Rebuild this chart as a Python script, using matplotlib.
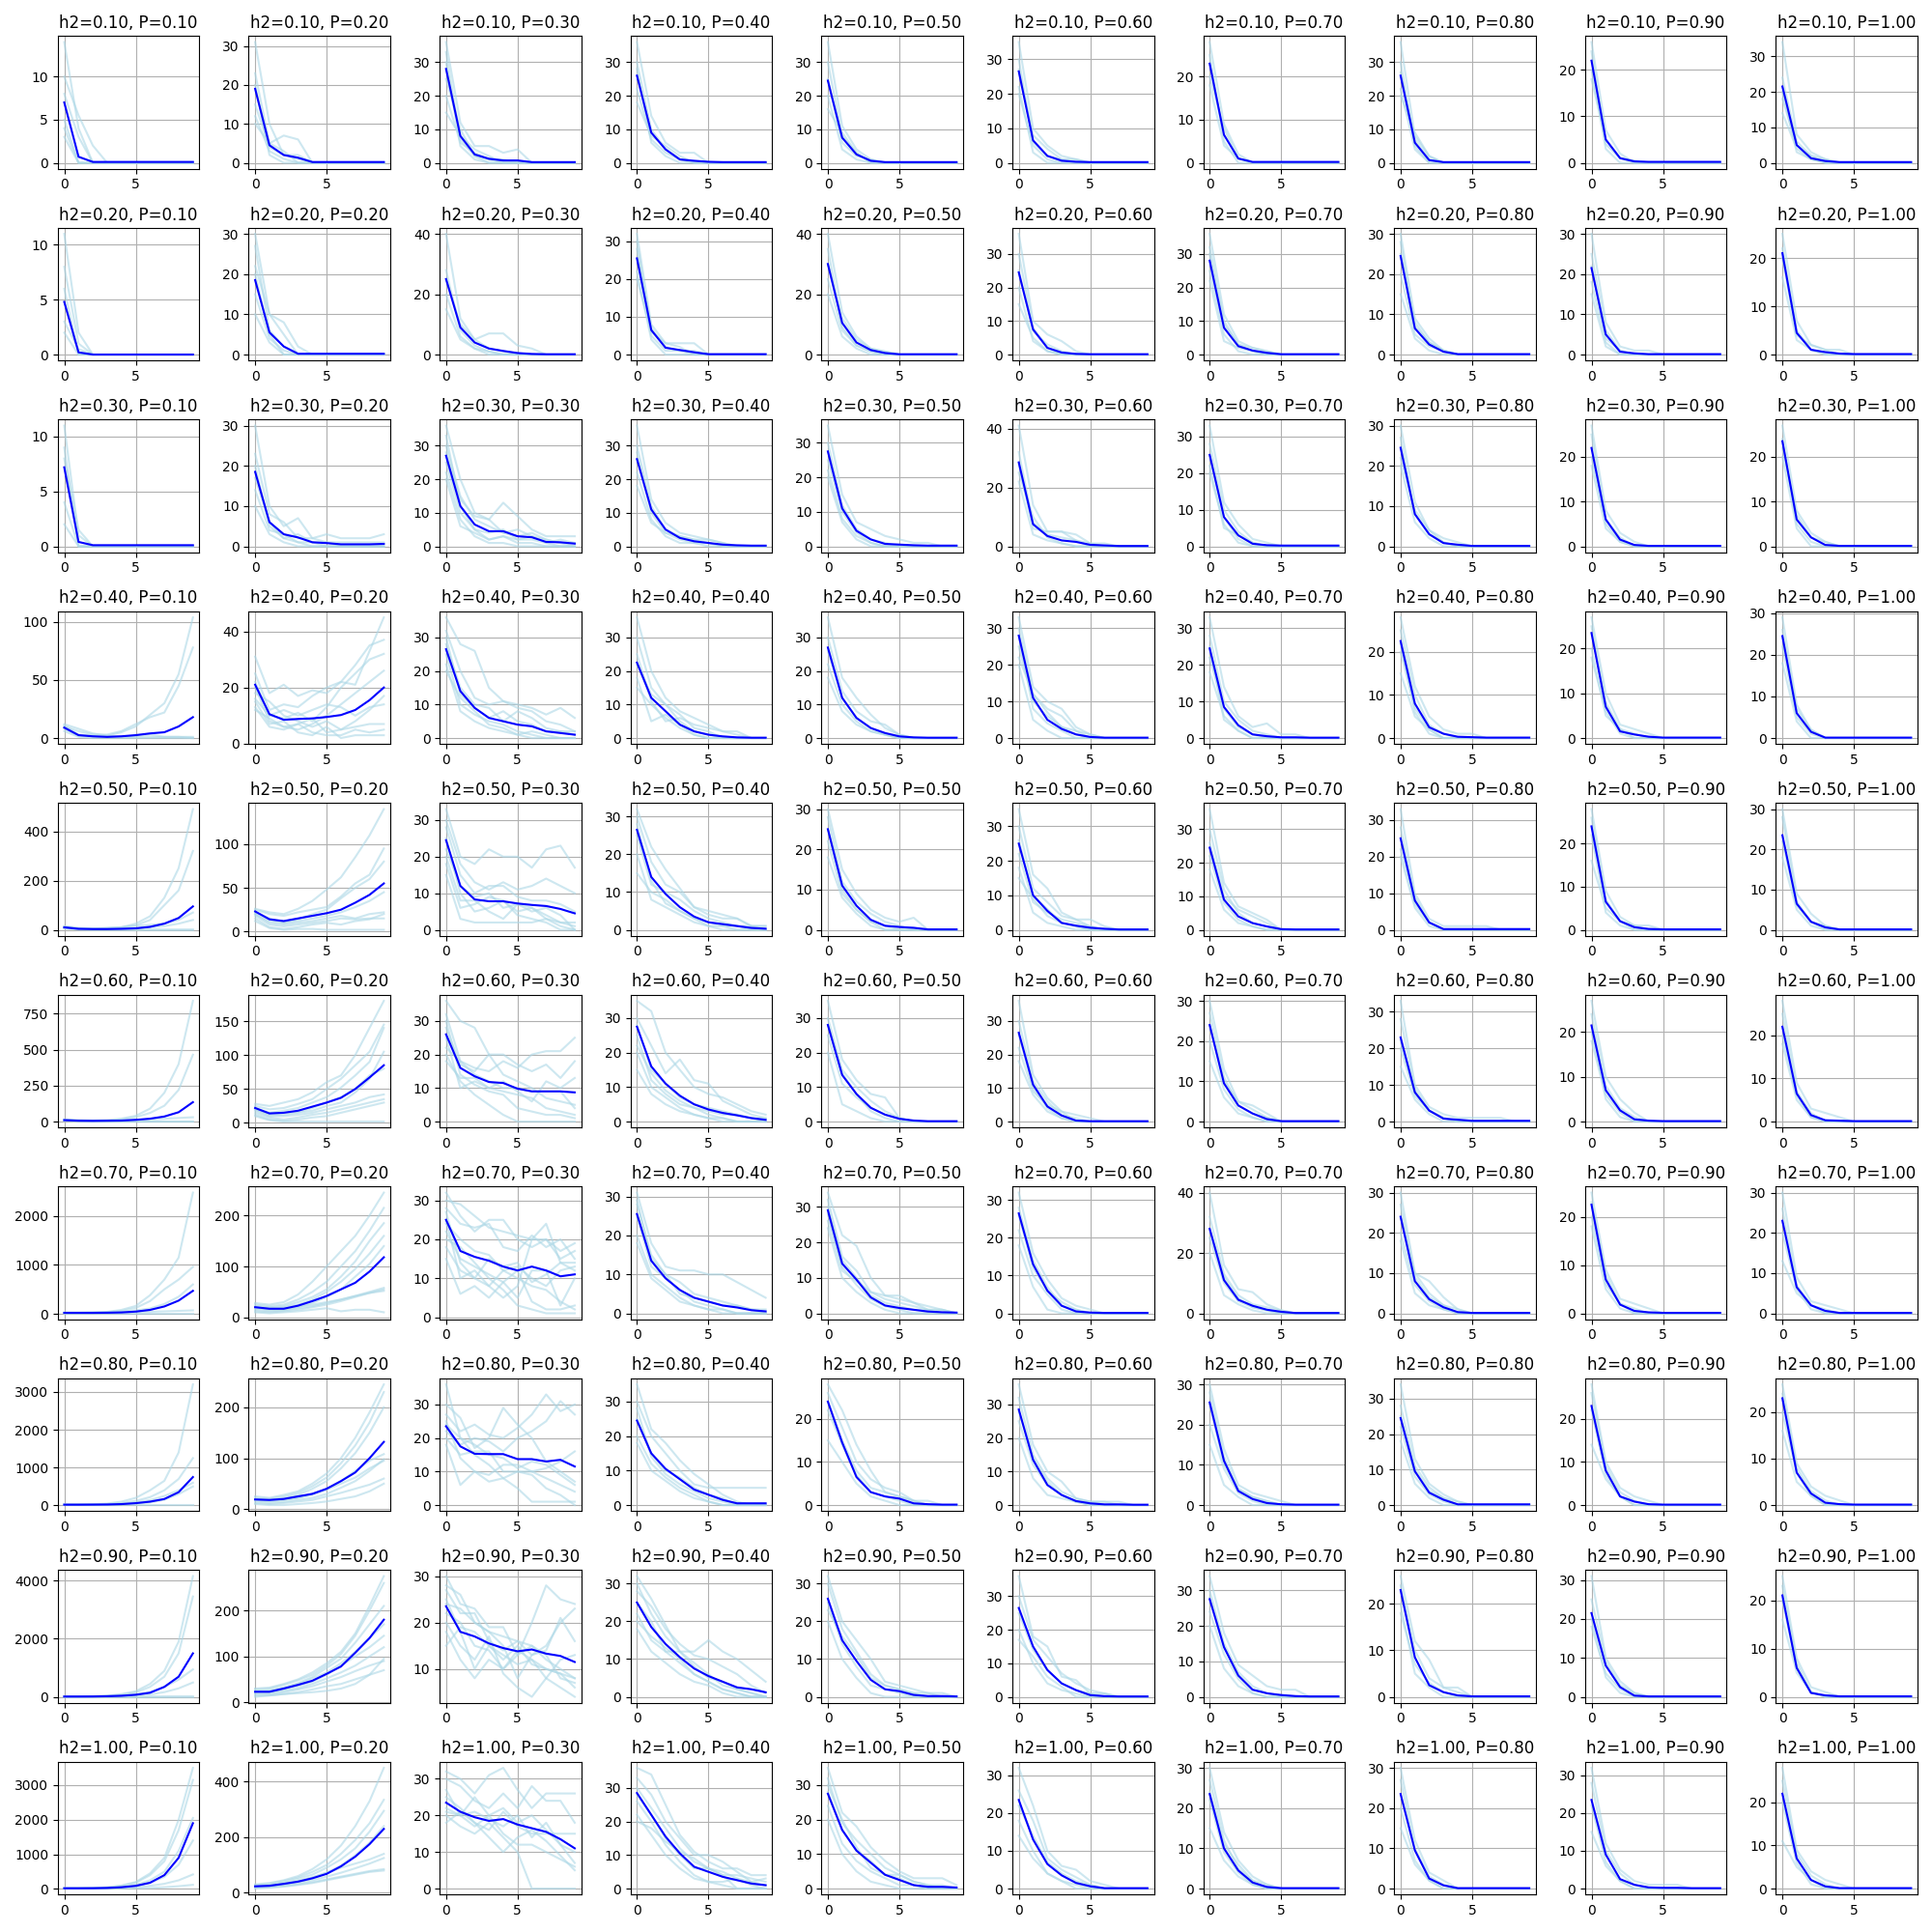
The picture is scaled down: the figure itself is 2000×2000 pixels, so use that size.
import matplotlib
matplotlib.use("Agg")
import matplotlib.pyplot as plt

H2_VALUES = [0.1, 0.2, 0.3, 0.4, 0.5, 0.6, 0.7, 0.8, 0.9, 1.0]
P_VALUES = [0.1, 0.2, 0.3, 0.4, 0.5, 0.6, 0.7, 0.8, 0.9, 1.0]
GENERATIONS = [0, 1, 2, 3, 4, 5, 6, 7, 8, 9]

# ---------------- h2 = 0.10 ----------------
MEAN_H2_010 = [
    [7, 0.7, 0.1, 0.1, 0.1, 0.1, 0.1, 0.1, 0.1, 0.1],
    [19, 4.5, 2, 1.3, 0.2, 0.2, 0.2, 0.2, 0.2, 0.2],
    [28, 8, 2.5, 1.2, 0.7, 0.7, 0.2, 0.2, 0.2, 0.2],
    [26, 9, 4, 1, 0.6, 0.3, 0.2, 0.2, 0.2, 0.2],
    [24.5, 7.5, 2.5, 0.6, 0.2, 0.2, 0.2, 0.2, 0.2, 0.2],
    [26.5, 6.5, 2, 0.6, 0.3, 0.2, 0.2, 0.2, 0.2, 0.2],
    [23, 6.5, 1, 0.2, 0.2, 0.2, 0.2, 0.2, 0.2, 0.2],
    [26, 6, 0.8, 0.2, 0.2, 0.2, 0.2, 0.2, 0.2, 0.2],
    [22, 5, 1, 0.3, 0.2, 0.2, 0.2, 0.2, 0.2, 0.2],
    [21.5, 5, 1.3, 0.5, 0.2, 0.2, 0.2, 0.2, 0.2, 0.2],
]
RUNS_H2_010 = [
    [[14, 4, 0, 0, 0, 0, 0, 0, 0, 0], [10, 5.5, 2, 0, 0, 0, 0, 0, 0, 0], [8, 3, 0, 0, 0, 0, 0, 0, 0, 0],
     [5, 0, 0, 0, 0, 0, 0, 0, 0, 0], [4, 0, 0, 0, 0, 0, 0, 0, 0, 0], [3, 0, 0, 0, 0, 0, 0, 0, 0, 0]],
    [[31, 10, 2, 1, 0, 0, 0, 0, 0, 0], [23, 5, 7, 6, 0, 0, 0, 0, 0, 0], [15, 4, 2, 2, 0, 0, 0, 0, 0, 0],
     [12, 3, 1, 0, 0, 0, 0, 0, 0, 0], [20, 2, 0, 0, 0, 0, 0, 0, 0, 0], [10, 5, 3, 0, 0, 0, 0, 0, 0, 0]],
    [[36, 12, 5, 5, 3, 4, 0, 0, 0, 0], [33, 7, 2, 1, 0, 0, 0, 0, 0, 0], [25, 10, 2, 0, 0, 0, 0, 0, 0, 0],
     [20, 6, 3, 1, 1, 0, 0, 0, 0, 0], [30, 5, 1, 0, 0, 0, 0, 0, 0, 0], [15, 8, 4, 2, 0, 0, 0, 0, 0, 0]],
    [[36, 14, 6, 3, 3, 0, 0, 0, 0, 0], [30, 10, 4, 1, 0, 0, 0, 0, 0, 0], [22, 7, 3, 1, 0, 0, 0, 0, 0, 0],
     [28, 6, 2, 0, 0, 0, 0, 0, 0, 0], [18, 8, 5, 2, 0, 0, 0, 0, 0, 0]],
    [[36, 11, 4, 1, 0, 0, 0, 0, 0, 0], [30, 8, 3, 0, 0, 0, 0, 0, 0, 0], [20, 4, 1, 0, 0, 0, 0, 0, 0, 0],
     [25, 6, 2, 1, 0, 0, 0, 0, 0, 0], [16, 9, 3, 0, 0, 0, 0, 0, 0, 0]],
    [[35, 10, 5, 2, 1, 0, 0, 0, 0, 0], [30, 6, 2, 1, 0, 0, 0, 0, 0, 0], [22, 3, 0, 0, 0, 0, 0, 0, 0, 0],
     [27, 8, 4, 1, 1, 0, 0, 0, 0, 0], [20, 5, 1, 0, 0, 0, 0, 0, 0, 0]],
    [[28, 9, 2, 0, 0, 0, 0, 0, 0, 0], [25, 5, 0, 0, 0, 0, 0, 0, 0, 0], [20, 8, 1, 0, 0, 0, 0, 0, 0, 0],
     [18, 4, 1, 0, 0, 0, 0, 0, 0, 0]],
    [[36, 8, 2, 0, 0, 0, 0, 0, 0, 0], [30, 5, 0, 0, 0, 0, 0, 0, 0, 0], [27, 7, 1, 0, 0, 0, 0, 0, 0, 0],
     [22, 4, 0, 0, 0, 0, 0, 0, 0, 0], [20, 9, 2, 0, 0, 0, 0, 0, 0, 0]],
    [[26, 7, 2, 0, 0, 0, 0, 0, 0, 0], [24, 4, 1, 0.5, 0, 0, 0, 0, 0, 0], [18, 5, 1, 0, 0, 0, 0, 0, 0, 0],
     [20, 3, 0, 0, 0, 0, 0, 0, 0, 0]],
    [[34, 8, 3, 1, 0, 0, 0, 0, 0, 0], [24, 6, 2, 0, 0, 0, 0, 0, 0, 0], [20, 3, 1, 0, 0, 0, 0, 0, 0, 0],
     [14, 4, 1, 0, 0, 0, 0, 0, 0, 0], [18, 5, 2, 1, 0, 0, 0, 0, 0, 0]],
]

# ---------------- h2 = 0.20 ----------------
MEAN_H2_020 = [
    [4.8, 0.2, 0, 0, 0, 0, 0, 0, 0, 0],
    [18.5, 5.5, 2, 0.2, 0.2, 0.2, 0.2, 0.2, 0.2, 0.2],
    [25, 9, 4, 2, 1.2, 0.5, 0.2, 0.1, 0.1, 0.1],
    [25.5, 6.5, 1.8, 1.2, 0.6, 0.1, 0.1, 0.1, 0.1, 0.1],
    [30, 10.5, 4, 1.5, 0.5, 0.1, 0.1, 0.1, 0.1, 0.1],
    [24.5, 7.5, 2, 0.6, 0.2, 0.1, 0.1, 0.1, 0.1, 0.1],
    [28, 8, 2.5, 1.2, 0.5, 0.1, 0.1, 0.1, 0.1, 0.1],
    [24.5, 6.5, 2.5, 0.7, 0.1, 0.1, 0.1, 0.1, 0.1, 0.1],
    [21.5, 5, 0.7, 0.3, 0.1, 0.1, 0.1, 0.1, 0.1, 0.1],
    [21, 4.5, 1, 0.5, 0.2, 0.1, 0.1, 0.1, 0.1, 0.1],
]
RUNS_H2_020 = [
    [[11, 2, 0, 0, 0, 0, 0, 0, 0, 0], [6, 0, 0, 0, 0, 0, 0, 0, 0, 0], [3, 0.5, 0, 0, 0, 0, 0, 0, 0, 0],
     [2, 0, 0, 0, 0, 0, 0, 0, 0, 0], [8, 1, 0, 0, 0, 0, 0, 0, 0, 0]],
    [[30, 10, 5, 0, 0, 0, 0, 0, 0, 0], [27, 6, 2, 0, 0, 0, 0, 0, 0, 0], [22, 10, 8, 2, 0, 0, 0, 0, 0, 0],
     [15, 4, 1, 0, 0, 0, 0, 0, 0, 0], [10, 3, 0, 0, 0, 0, 0, 0, 0, 0], [20, 5, 0, 0, 0, 0, 0, 0, 0, 0]],
    [[40, 12, 5, 7, 7, 3, 2, 0, 0, 0], [28, 8, 3, 1, 0, 0, 0, 0, 0, 0], [20, 6, 2, 0, 0, 0, 0, 0, 0, 0],
     [25, 10, 5, 2, 1, 0, 0, 0, 0, 0], [15, 5, 2, 1, 0, 0, 0, 0, 0, 0]],
    [[32, 8, 3, 3, 3, 0, 0, 0, 0, 0], [30, 5, 1, 1, 0, 0, 0, 0, 0, 0], [22, 4, 0, 0, 0, 0, 0, 0, 0, 0],
     [28, 7, 2, 1, 1, 0, 0, 0, 0, 0], [20, 6, 3, 2, 0, 0, 0, 0, 0, 0]],
    [[40, 14, 6, 2, 1, 0, 0, 0, 0, 0], [35, 9, 3, 1, 0, 0, 0, 0, 0, 0], [25, 8, 3, 1, 0, 0, 0, 0, 0, 0],
     [30, 12, 5, 2, 1, 0, 0, 0, 0, 0], [20, 6, 2, 0, 0, 0, 0, 0, 0, 0]],
    [[36, 10, 6, 4, 1, 0, 0, 0, 0, 0], [30, 8, 2, 0, 0, 0, 0, 0, 0, 0], [20, 4, 1, 0, 0, 0, 0, 0, 0, 0],
     [25, 7, 3, 1, 0, 0, 0, 0, 0, 0], [15, 5, 1, 0, 0, 0, 0, 0, 0, 0]],
    [[36, 12, 4, 2, 1, 0, 0, 0, 0, 0], [30, 9, 3, 1, 0, 0, 0, 0, 0, 0], [25, 6, 1, 0, 0, 0, 0, 0, 0, 0],
     [22, 4, 2, 1, 0, 0, 0, 0, 0, 0], [32, 10, 3, 2, 1, 0, 0, 0, 0, 0]],
    [[30, 9, 4, 1, 0, 0, 0, 0, 0, 0], [28, 7, 3, 1, 0, 0, 0, 0, 0, 0], [20, 5, 2, 1, 0, 0, 0, 0, 0, 0],
     [15, 4, 1, 0, 0, 0, 0, 0, 0, 0], [25, 8, 3, 1, 0, 0, 0, 0, 0, 0]],
    [[30, 8, 2, 1, 1, 0, 0, 0, 0, 0], [25, 6, 1, 0, 0, 0, 0, 0, 0, 0], [18, 3, 0, 0, 0, 0, 0, 0, 0, 0],
     [22, 4, 1, 0, 0, 0, 0, 0, 0, 0], [15, 2, 0, 0, 0, 0, 0, 0, 0, 0]],
    [[25, 7, 2, 1, 1, 0, 0, 0, 0, 0], [22, 5, 1, 0, 0, 0, 0, 0, 0, 0], [16, 3, 1, 0, 0, 0, 0, 0, 0, 0],
     [20, 4, 2, 1, 0, 0, 0, 0, 0, 0]],
]

# ---------------- h2 = 0.30 ----------------
MEAN_H2_030 = [
    [7.2, 0.4, 0.1, 0.1, 0.1, 0.1, 0.1, 0.1, 0.1, 0.1],
    [18.5, 6, 3, 2.2, 1, 0.8, 0.5, 0.5, 0.5, 0.6],
    [27, 12, 6.5, 4.5, 4.5, 3, 2.7, 1.3, 1.2, 0.8],
    [26, 11, 5, 2.5, 1.5, 1, 0.5, 0.3, 0.2, 0.2],
    [27.5, 11, 4.5, 2, 0.7, 0.5, 0.3, 0.2, 0.2, 0.2],
    [28.5, 7.5, 3.5, 2, 1.5, 0.5, 0.3, 0.1, 0.1, 0.1],
    [25, 8, 3, 0.7, 0.3, 0.2, 0.2, 0.2, 0.2, 0.2],
    [24.5, 8, 3, 0.8, 0.4, 0.1, 0.1, 0.1, 0.1, 0.1],
    [22, 6, 1.5, 0.3, 0.1, 0.1, 0.1, 0.1, 0.1, 0.1],
    [23.5, 6, 2, 0.3, 0.1, 0.1, 0.1, 0.1, 0.1, 0.1],
]
RUNS_H2_030 = [
    [[11, 1, 0, 0, 0, 0, 0, 0, 0, 0], [9, 0, 0, 0, 0, 0, 0, 0, 0, 0], [4, 0, 0, 0, 0, 0, 0, 0, 0, 0],
     [2, 0, 0, 0, 0, 0, 0, 0, 0, 0], [8, 1.5, 0, 0, 0, 0, 0, 0, 0, 0]],
    [[30, 10, 5, 7, 2, 3, 2, 2, 2, 3], [23, 8, 6, 2, 2, 1, 0, 0, 0, 0], [20, 5, 2, 1, 0, 0, 0, 0, 0, 0],
     [14, 4, 3, 1, 1, 0, 0, 0, 0, 0], [10, 3, 1, 0, 0, 0, 0, 0, 0, 0], [17, 6, 2, 3, 1, 1, 1, 1, 1, 1]],
    [[36, 20, 10, 8, 13, 9, 5, 3, 3, 3], [30, 15, 8, 6, 4, 5, 3, 1, 0, 0], [25, 10, 5, 4, 5, 2, 2, 1, 2, 1],
     [20, 6, 4, 2, 3, 1, 1, 0, 0, 0], [33, 12, 5, 2, 3, 2, 3, 2, 1, 0], [22, 8, 3, 1, 1, 0, 0, 0, 0, 0],
     [28, 14, 9, 8, 4, 3, 4, 2, 1, 1]],
    [[36, 14, 7, 4, 3, 2, 1, 0, 0, 0], [30, 12, 5, 3, 2, 1, 0, 0, 0, 0], [22, 8, 3, 1, 1, 0, 0, 0, 0, 0],
     [18, 7, 4, 2, 1, 1, 0, 0, 0, 0], [28, 10, 4, 3, 2, 2, 1, 0, 0, 0]],
    [[35, 15, 7, 5, 3, 2, 1, 1, 0, 0], [30, 12, 5, 2, 1, 0, 0, 0, 0, 0], [22, 8, 3, 1, 0, 0, 0, 0, 0, 0],
     [25, 10, 4, 1, 0, 0, 0, 0, 0, 0], [20, 7, 2, 0, 0, 0, 0, 0, 0, 0]],
    [[41, 14, 5, 5, 4, 1, 0, 0, 0, 0], [32, 8, 4, 3, 2, 1, 1, 0, 0, 0], [22, 4, 2, 1, 0, 0, 0, 0, 0, 0],
     [28, 6, 5, 5, 2, 0, 0, 0, 0, 0], [25, 10, 3, 1, 0, 0, 0, 0, 0, 0]],
    [[33, 12, 6, 2, 1, 0, 0, 0, 0, 0], [28, 10, 4, 1, 0, 0, 0, 0, 0, 0], [20, 6, 1, 0, 0, 0, 0, 0, 0, 0],
     [22, 5, 3, 1, 0, 0, 0, 0, 0, 0], [25, 8, 2, 0, 0, 0, 0, 0, 0, 0]],
    [[30, 11, 4, 2, 1, 0, 0, 0, 0, 0], [27, 8, 3, 1, 0, 0, 0, 0, 0, 0], [20, 6, 2, 0, 0, 0, 0, 0, 0, 0],
     [22, 9, 4, 1, 0, 0, 0, 0, 0, 0]],
    [[27, 8, 3, 1, 0, 0, 0, 0, 0, 0], [25, 6, 2, 0, 0, 0, 0, 0, 0, 0], [18, 4, 1, 0, 0, 0, 0, 0, 0, 0],
     [20, 5, 1, 0, 0, 0, 0, 0, 0, 0]],
    [[27, 8, 3, 1, 0, 0, 0, 0, 0, 0], [24, 5, 1, 0, 0, 0, 0, 0, 0, 0], [20, 4, 0, 0, 0, 0, 0, 0, 0, 0],
     [22, 7, 2, 1, 0, 0, 0, 0, 0, 0]],
]

# ---------------- h2 = 0.40 ----------------
MEAN_H2_040 = [
    [9, 2.5, 1.5, 1, 1.5, 2.5, 4, 5, 10, 18],
    [21, 10.5, 8.5, 8.8, 9, 9.5, 10.2, 12, 15.5, 20],
    [26.5, 14, 9, 6, 5, 4, 3.5, 2, 1.5, 1],
    [22.5, 12, 8, 4, 2, 1, 0.5, 0.2, 0.1, 0.1],
    [27, 12, 6, 3, 1.5, 0.5, 0.2, 0.1, 0.1, 0.1],
    [28, 11, 5, 2.5, 1, 0.3, 0.1, 0.1, 0.1, 0.1],
    [24.5, 8.5, 3.5, 1, 0.5, 0.2, 0.2, 0.1, 0.1, 0.1],
    [22.5, 8, 2.5, 1, 0.3, 0.2, 0.1, 0.1, 0.1, 0.1],
    [23.5, 7, 1.5, 0.8, 0.3, 0.1, 0.1, 0.1, 0.1, 0.1],
    [24.5, 6, 1.5, 0.1, 0.1, 0.1, 0.1, 0.1, 0.1, 0.1],
]
RUNS_H2_040 = [
    [[12, 8, 4, 2, 5, 10, 20, 30, 55, 104], [10, 6, 3, 3, 6, 12, 18, 22, 45, 78], [8, 2, 1, 1, 1, 1, 1, 1, 1, 1],
     [6, 1, 0, 0, 0, 0, 0, 0, 0, 0], [11, 3, 2, 2, 1, 2, 3, 1, 1, 0]],
    [[31, 18, 21, 17, 19, 18, 22, 21, 33, 45], [25, 12, 14, 13, 17, 20, 22, 28, 35, 37],
     [22, 10, 9, 11, 8, 13, 20, 25, 30, 32], [20, 8, 6, 5, 7, 10, 14, 18, 22, 26],
     [18, 15, 10, 8, 6, 8, 5, 8, 12, 17], [15, 7, 8, 4, 3, 6, 2, 3, 3, 3],
     [13, 6, 5, 7, 9, 4, 5, 6, 7, 7], [12, 9, 6, 7, 4, 3, 3, 5, 4, 5], [16, 10, 12, 10, 12, 14, 13, 10, 13, 14]],
    [[36, 28, 26, 15, 11, 10, 9, 7, 9, 6], [32, 20, 12, 10, 11, 9, 8, 5, 4, 2], [28, 15, 10, 9, 5, 8, 6, 3, 2, 2],
     [25, 10, 7, 5, 4, 2, 1, 0, 0, 0], [20, 12, 8, 4, 3, 1, 2, 1, 0, 0], [22, 8, 5, 3, 2, 1, 0, 0, 0, 0],
     [30, 13, 9, 6, 8, 5, 4, 2, 2, 1]],
    [[36, 20, 12, 8, 6, 4, 2, 1, 0, 0], [30, 15, 10, 7, 3, 2, 0, 0, 0, 0], [25, 11, 5, 6, 4, 3, 2, 2, 0, 0],
     [18, 5, 7, 4, 1, 0, 0, 0, 0, 0], [15, 10, 6, 3, 1, 0, 0, 0, 0, 0], [22, 13, 10, 5, 2, 1, 0, 0, 0, 0]],
    [[36, 18, 12, 7, 3, 1, 0, 0, 0, 0], [30, 14, 8, 5, 4, 1, 0, 0, 0, 0], [22, 10, 5, 2, 1, 0, 0, 0, 0, 0],
     [18, 8, 4, 2, 1, 0, 0, 0, 0, 0], [26, 12, 6, 3, 1, 0, 0, 0, 0, 0]],
    [[33, 14, 10, 8, 3, 1, 0, 0, 0, 0], [30, 12, 8, 6, 2, 1, 0, 0, 0, 0], [25, 10, 6, 3, 1, 0, 0, 0, 0, 0],
     [20, 5, 2, 0, 0, 0, 0, 0, 0, 0], [28, 8, 4, 2, 0, 0, 0, 0, 0, 0], [22, 12, 7, 3, 2, 0, 0, 0, 0, 0]],
    [[33, 14, 6, 3, 4, 1, 1, 0, 0, 0], [28, 10, 5, 2, 1, 0, 0, 0, 0, 0], [22, 8, 3, 1, 0, 0, 0, 0, 0, 0],
     [18, 6, 2, 0, 0, 0, 0, 0, 0, 0], [25, 5, 2, 0, 0, 0, 0, 0, 0, 0]],
    [[28, 12, 5, 2, 1, 1, 0, 0, 0, 0], [25, 10, 3, 1, 0, 0, 0, 0, 0, 0], [20, 7, 2, 0, 0, 0, 0, 0, 0, 0],
     [15, 5, 2, 0, 0, 0, 0, 0, 0, 0], [22, 6, 1, 0, 0, 0, 0, 0, 0, 0]],
    [[27, 10, 3, 2, 1, 0, 0, 0, 0, 0], [25, 8, 2, 1, 0, 0, 0, 0, 0, 0], [20, 5, 2, 0, 0, 0, 0, 0, 0, 0],
     [18, 6, 1, 0, 0, 0, 0, 0, 0, 0]],
    [[29, 8, 2, 0, 0, 0, 0, 0, 0, 0], [26, 7, 2, 0, 0, 0, 0, 0, 0, 0], [22, 5, 1, 0, 0, 0, 0, 0, 0, 0],
     [18, 4, 0, 0, 0, 0, 0, 0, 0, 0]],
]

# ---------------- h2 = 0.50 ----------------
MEAN_H2_050 = [
    [10, 4, 3, 3, 4, 6, 12, 25, 48, 95],
    [23, 14, 12, 15, 18, 21, 25, 33, 42, 55],
    [24.5, 12, 8.3, 7.8, 7.8, 7.2, 6.8, 6.5, 5.7, 4.5],
    [26.5, 14, 9.5, 6, 3.5, 2, 1.5, 1, 0.5, 0.3],
    [25, 11, 6, 2.5, 1, 0.7, 0.5, 0.1, 0.1, 0.1],
    [25, 10, 5.5, 2, 1.2, 0.6, 0.3, 0.1, 0.1, 0.1],
    [24.5, 9, 4, 2, 1, 0.2, 0.1, 0.1, 0.1, 0.1],
    [25, 8, 2, 0.2, 0.2, 0.2, 0.2, 0.2, 0.2, 0.2],
    [24, 6.5, 2, 0.6, 0.2, 0.1, 0.1, 0.1, 0.1, 0.1],
    [23.5, 6.5, 2, 0.6, 0.1, 0.1, 0.1, 0.1, 0.1, 0.1],
]
RUNS_H2_050 = [
    [[15, 8, 5, 6, 10, 25, 55, 130, 250, 490], [12, 6, 4, 6, 10, 18, 40, 100, 160, 320],
     [8, 5, 5, 8, 10, 15, 20, 25, 40, 70], [10, 3, 2, 3, 4, 6, 10, 15, 25, 40],
     [8, 2, 0, 0, 0, 0, 0, 0, 0, 0], [5, 1, 0, 0, 0, 0, 0, 0, 0, 0]],
    [[26, 22, 20, 26, 35, 48, 62, 85, 110, 140], [25, 20, 18, 22, 25, 28, 40, 55, 65, 95],
     [22, 15, 10, 14, 20, 25, 38, 50, 60, 80], [20, 10, 8, 10, 12, 15, 18, 15, 20, 22],
     [18, 8, 6, 8, 10, 12, 15, 14, 15, 15], [15, 5, 3, 5, 8, 10, 8, 12, 14, 20],
     [12, 4, 2, 3, 3, 2, 2, 2, 2, 2], [20, 12, 10, 12, 15, 18, 22, 28, 35, 45]],
    [[33, 20, 18, 22, 20, 20, 17, 22, 23, 17], [30, 18, 13, 11, 13, 11, 12, 14, 12, 10],
     [28, 15, 10, 12, 12, 9, 8, 8, 7, 5], [25, 10, 5, 6, 8, 5, 6, 4, 2, 1],
     [20, 8, 8, 5, 3, 7, 6, 3, 2, 2], [22, 12, 9, 10, 6, 7, 5, 6, 4, 0],
     [15, 3, 2, 2, 2, 2, 2, 3, 1, 0], [18, 6, 7, 9, 8, 4, 3, 2, 0, 0]],
    [[32, 22, 16, 11, 6, 5, 4, 3, 1, 1], [30, 18, 12, 10, 6, 4, 3, 3, 1, 0], [25, 12, 10, 8, 5, 3, 2, 1, 0, 0],
     [20, 8, 6, 4, 2, 1, 1, 0, 0, 0], [15, 10, 8, 5, 3, 2, 1, 1, 1, 1], [28, 13, 7, 5, 3, 1, 0, 0, 0, 0]],
    [[30, 15, 9, 5, 3, 2, 3, 0, 0, 0], [28, 12, 7, 4, 2, 1, 0, 0, 0, 0], [22, 9, 5, 2, 1, 0, 0, 0, 0, 0],
     [18, 8, 4, 1, 0, 0, 0, 0, 0, 0], [25, 10, 5, 2, 0, 0, 0, 0, 0, 0]],
    [[35, 16, 12, 5, 3, 3, 1, 0, 0, 0], [30, 12, 8, 4, 3, 1, 0, 0, 0, 0], [22, 8, 5, 3, 2, 1, 0, 0, 0, 0],
     [18, 5, 2, 1, 0, 0, 0, 0, 0, 0], [26, 10, 6, 2, 1, 0, 0, 0, 0, 0], [15, 9, 4, 2, 1, 0, 0, 0, 0, 0]],
    [[36, 14, 7, 5, 3, 0, 0, 0, 0, 0], [30, 12, 5, 2, 1, 0, 0, 0, 0, 0], [22, 8, 3, 1, 0, 0, 0, 0, 0, 0],
     [18, 6, 2, 1, 0, 0, 0, 0, 0, 0], [26, 10, 6, 4, 2, 0, 0, 0, 0, 0]],
    [[33, 10, 3, 1, 1, 1, 1, 0, 0, 0], [28, 9, 2, 0, 0, 0, 0, 0, 0, 0], [22, 7, 2, 0, 0, 0, 0, 0, 0, 0],
     [20, 6, 1, 0, 0, 0, 0, 0, 0, 0]],
    [[28, 9, 3, 1, 1, 0, 0, 0, 0, 0], [26, 7, 2, 1, 0, 0, 0, 0, 0, 0], [16, 5, 2, 0, 0, 0, 0, 0, 0, 0],
     [22, 4, 1, 0, 0, 0, 0, 0, 0, 0]],
    [[30, 9, 4, 1, 0, 0, 0, 0, 0, 0], [28, 7, 2, 1, 0, 0, 0, 0, 0, 0], [18, 5, 1, 0, 0, 0, 0, 0, 0, 0],
     [22, 6, 2, 0, 0, 0, 0, 0, 0, 0]],
]

# ---------------- h2 = 0.60 ----------------
MEAN_H2_060 = [
    [10, 6, 5, 6, 7, 12, 20, 35, 65, 135],
    [22, 14, 15, 18, 24, 30, 37, 50, 67, 85],
    [26, 16, 13.5, 11.8, 11.5, 9.8, 9, 9, 9, 8.7],
    [27.5, 16, 11, 7.5, 5, 3.5, 2.5, 1.8, 1, 0.5],
    [28, 13.5, 8, 4, 2, 0.8, 0.3, 0.1, 0.1, 0.1],
    [26.5, 11, 4.5, 1.8, 0.3, 0.1, 0.1, 0.1, 0.1, 0.1],
    [24, 9.5, 4, 2, 0.6, 0.1, 0.1, 0.1, 0.1, 0.1],
    [23, 8, 3, 0.8, 0.5, 0.2, 0.2, 0.2, 0.2, 0.2],
    [21.5, 7, 2.5, 0.5, 0.2, 0.1, 0.1, 0.1, 0.1, 0.1],
    [22, 6.5, 1.5, 0.3, 0.2, 0.1, 0.1, 0.1, 0.1, 0.1],
]
RUNS_H2_060 = [
    [[15, 10, 8, 10, 20, 40, 90, 200, 400, 840], [12, 8, 6, 8, 15, 30, 60, 110, 220, 465],
     [10, 6, 5, 6, 8, 10, 15, 20, 25, 30], [5, 2, 0, 0, 0, 0, 0, 0, 0, 0], [8, 3, 1, 0, 0, 0, 0, 0, 0, 0]],
    [[28, 25, 30, 35, 45, 60, 70, 100, 140, 180], [25, 20, 22, 28, 35, 50, 65, 85, 105, 145],
     [22, 15, 18, 22, 30, 38, 52, 70, 90, 140], [20, 12, 12, 15, 18, 25, 30, 45, 65, 105],
     [18, 10, 10, 12, 15, 20, 25, 30, 38, 42], [15, 8, 5, 8, 12, 15, 20, 25, 30, 35],
     [12, 5, 3, 5, 8, 10, 15, 20, 25, 30], [10, 4, 2, 2, 2, 2, 2, 2, 2, 2],
     [20, 14, 15, 16, 22, 30, 38, 50, 70, 80]],
    [[36, 30, 28, 20, 14, 12, 10, 7, 6, 5], [32, 18, 16, 15, 18, 16, 20, 21, 21, 25],
     [28, 17, 15, 20, 20, 17, 15, 17, 13, 18], [25, 10, 12, 10, 12, 9, 6, 12, 10, 13],
     [22, 18, 14, 12, 10, 10, 9, 9, 9, 4], [20, 12, 8, 5, 2, 0, 0, 0, 0, 0],
     [30, 14, 11, 9, 8, 4, 3, 2, 2, 1], [18, 13, 13, 10, 9, 8, 7, 4, 3, 2]],
    [[35, 32, 20, 15, 10, 8, 7, 5, 3, 2], [30, 22, 14, 18, 12, 11, 6, 4, 2, 1],
     [28, 15, 11, 7, 5, 4, 3, 2, 1, 1], [25, 12, 8, 5, 4, 2, 1, 0, 0, 0],
     [20, 10, 7, 4, 2, 1, 0, 0, 0, 0], [22, 14, 9, 6, 4, 3, 2, 2, 1, 0], [15, 8, 5, 3, 2, 1, 1, 0, 0, 0]],
    [[35, 18, 12, 8, 7, 1, 0, 0, 0, 0], [30, 15, 10, 6, 3, 1, 0, 0, 0, 0], [25, 11, 7, 4, 2, 1, 0, 0, 0, 0],
     [20, 5, 3, 1, 0, 0, 0, 0, 0, 0], [28, 14, 8, 3, 1, 0, 0, 0, 0, 0]],
    [[36, 14, 7, 3, 2, 1, 0, 0, 0, 0], [30, 12, 6, 2, 1, 0, 0, 0, 0, 0], [22, 9, 5, 3, 0, 0, 0, 0, 0, 0],
     [18, 8, 3, 1, 0, 0, 0, 0, 0, 0], [26, 10, 4, 1, 0, 0, 0, 0, 0, 0]],
    [[30, 13, 5, 4, 2, 0, 0, 0, 0, 0], [27, 11, 4, 2, 1, 0, 0, 0, 0, 0], [20, 8, 3, 1, 0, 0, 0, 0, 0, 0],
     [15, 6, 2, 1, 0, 0, 0, 0, 0, 0], [24, 10, 5, 3, 1, 0, 0, 0, 0, 0]],
    [[33, 10, 4, 2, 1, 1, 1, 1, 0, 0], [28, 9, 3, 1, 0, 0, 0, 0, 0, 0], [20, 7, 3, 1, 0, 0, 0, 0, 0, 0],
     [15, 6, 2, 0, 0, 0, 0, 0, 0, 0], [22, 8, 3, 1, 0, 0, 0, 0, 0, 0]],
    [[27, 10, 5, 2, 0, 0, 0, 0, 0, 0], [24, 8, 3, 1, 0, 0, 0, 0, 0, 0], [18, 6, 2, 0, 0, 0, 0, 0, 0, 0],
     [20, 5, 1, 0, 0, 0, 0, 0, 0, 0]],
    [[28, 9, 3, 2, 1, 0, 0, 0, 0, 0], [25, 7, 2, 0, 0, 0, 0, 0, 0, 0], [18, 5, 1, 0, 0, 0, 0, 0, 0, 0],
     [20, 6, 1, 0, 0, 0, 0, 0, 0, 0]],
]

# ---------------- h2 = 0.70 ----------------
MEAN_H2_070 = [
    [20, 20, 20, 22, 28, 45, 80, 150, 270, 470],
    [20, 17, 17, 23, 32, 42, 55, 68, 90, 118],
    [25, 17, 15.5, 14.5, 13, 12, 13, 12, 10.5, 11],
    [25.5, 13.5, 9, 6, 4, 3, 2, 1.5, 0.8, 0.5],
    [29, 14, 9.5, 4.5, 2.2, 1.5, 1, 0.5, 0.3, 0.2],
    [26.5, 13, 6, 2, 0.5, 0.2, 0.1, 0.1, 0.1, 0.1],
    [28, 11, 4.5, 2.5, 1.2, 0.5, 0.1, 0.1, 0.1, 0.1],
    [24, 8, 3.5, 1.5, 0.3, 0.1, 0.1, 0.1, 0.1, 0.1],
    [22.5, 7, 1.8, 0.5, 0.2, 0.1, 0.1, 0.1, 0.1, 0.1],
    [23, 6.5, 2, 0.6, 0.1, 0.1, 0.1, 0.1, 0.1, 0.1],
]
RUNS_H2_070 = [
    [[25, 25, 30, 40, 80, 160, 380, 700, 1150, 2480], [22, 22, 25, 35, 60, 120, 260, 500, 700, 960],
     [20, 20, 22, 28, 40, 70, 110, 200, 350, 600], [15, 15, 18, 20, 25, 30, 40, 50, 60, 70],
     [10, 10, 10, 10, 10, 10, 10, 10, 10, 10]],
    [[28, 25, 30, 45, 70, 100, 130, 160, 200, 245], [25, 22, 25, 35, 50, 70, 100, 130, 170, 215],
     [22, 20, 22, 30, 40, 55, 80, 110, 150, 185], [20, 18, 20, 25, 35, 50, 70, 95, 125, 160],
     [18, 15, 15, 20, 28, 40, 55, 80, 105, 140], [15, 12, 14, 18, 22, 28, 35, 42, 50, 58],
     [12, 10, 12, 15, 20, 25, 32, 40, 48, 55], [10, 8, 10, 12, 15, 18, 12, 15, 15, 10],
     [18, 16, 18, 22, 25, 30, 35, 42, 48, 52]],
    [[32, 26, 22, 25, 25, 20, 18, 20, 17, 19], [30, 29, 26, 23, 22, 21, 20, 20, 15, 17],
     [28, 24, 23, 24, 18, 17, 21, 18, 20, 15], [25, 10, 12, 8, 12, 13, 10, 8, 12, 13],
     [22, 15, 13, 11, 9, 5, 12, 12, 3, 10], [20, 18, 14, 10, 7, 3, 2, 1, 1, 1],
     [18, 12, 10, 8, 5, 8, 20, 24, 14, 14], [15, 6, 8, 5, 9, 12, 4, 2, 2, 3],
     [27, 14, 10, 15, 13, 14, 9, 11, 14, 12], [24, 20, 17, 16, 12, 10, 8, 7, 4, 2]],
    [[31, 18, 12, 11, 11, 10, 10, 8, 6, 4], [29, 14, 10, 8, 5, 4, 3, 2, 1, 1], [25, 12, 9, 6, 3, 2, 1, 0, 0, 0],
     [20, 10, 7, 4, 2, 1, 1, 0, 0, 0], [18, 9, 6, 3, 2, 1, 0, 0, 0, 0], [28, 15, 10, 5, 4, 3, 2, 2, 1, 0]],
    [[34, 22, 19, 10, 5, 5, 3, 1, 1, 0], [32, 16, 12, 6, 4, 3, 2, 1, 0, 0], [28, 13, 8, 4, 2, 1, 0, 0, 0, 0],
     [24, 10, 6, 3, 1, 0, 0, 0, 0, 0], [30, 15, 10, 5, 3, 2, 1, 1, 1, 0], [26, 12, 9, 6, 5, 4, 3, 2, 1, 0]],
    [[32, 16, 9, 4, 2, 1, 0, 0, 0, 0], [28, 14, 7, 2, 1, 0, 0, 0, 0, 0], [22, 10, 5, 1, 0, 0, 0, 0, 0, 0],
     [18, 7, 1, 0, 0, 0, 0, 0, 0, 0], [26, 12, 6, 3, 1, 0, 0, 0, 0, 0]],
    [[40, 16, 8, 7, 3, 1, 0, 0, 0, 0], [32, 13, 6, 3, 2, 1, 0, 0, 0, 0], [25, 10, 4, 2, 1, 0, 0, 0, 0, 0],
     [20, 6, 3, 1, 0, 0, 0, 0, 0, 0], [28, 12, 5, 2, 1, 0, 0, 0, 0, 0]],
    [[30, 10, 8, 4, 1, 0, 0, 0, 0, 0], [27, 9, 4, 2, 1, 0, 0, 0, 0, 0], [20, 7, 3, 1, 0, 0, 0, 0, 0, 0],
     [18, 5, 2, 1, 0, 0, 0, 0, 0, 0], [24, 10, 5, 2, 0, 0, 0, 0, 0, 0]],
    [[25, 9, 3, 2, 1, 0, 0, 0, 0, 0], [23, 8, 2, 1, 0, 0, 0, 0, 0, 0], [18, 5, 1, 0, 0, 0, 0, 0, 0, 0],
     [20, 6, 2, 0, 0, 0, 0, 0, 0, 0]],
    [[30, 9, 3, 2, 1, 0, 0, 0, 0, 0], [26, 7, 2, 1, 0, 0, 0, 0, 0, 0], [13, 5, 2, 0, 0, 0, 0, 0, 0, 0],
     [20, 6, 1, 0, 0, 0, 0, 0, 0, 0]],
]

# ---------------- h2 = 0.80 ----------------
MEAN_H2_080 = [
    [20, 20, 22, 25, 35, 60, 100, 170, 350, 750],
    [19, 18, 20, 25, 30, 40, 55, 72, 100, 132],
    [23.5, 17.5, 15.3, 15.2, 15.2, 13.7, 13.7, 13, 13.5, 11.5],
    [24.5, 15, 10.5, 7.5, 4.5, 3, 1.5, 0.5, 0.5, 0.5],
    [24, 14.5, 6.5, 3, 2, 1.5, 0.4, 0.2, 0.1, 0.1],
    [28.5, 13.5, 6, 3, 1.2, 0.5, 0.2, 0.2, 0.1, 0.1],
    [25.5, 11, 3.5, 1.5, 0.5, 0.2, 0.1, 0.1, 0.1, 0.1],
    [24.5, 9.5, 3.5, 1.5, 0.2, 0.2, 0.2, 0.2, 0.2, 0.2],
    [23, 8, 2, 0.8, 0.2, 0.1, 0.1, 0.1, 0.1, 0.1],
    [23, 7, 2.5, 0.5, 0.2, 0.1, 0.1, 0.1, 0.1, 0.1],
]
RUNS_H2_080 = [
    [[25, 25, 30, 50, 100, 200, 400, 650, 1400, 3200], [22, 22, 25, 35, 60, 120, 220, 400, 700, 1250],
     [20, 20, 22, 28, 45, 80, 140, 250, 400, 600], [18, 18, 20, 22, 30, 50, 80, 150, 300, 500],
     [10, 10, 10, 10, 10, 10, 10, 10, 10, 10]],
    [[25, 22, 28, 35, 50, 70, 100, 140, 190, 245], [22, 20, 25, 32, 45, 62, 90, 125, 170, 230],
     [20, 18, 22, 28, 40, 55, 80, 110, 150, 200], [18, 15, 18, 22, 30, 40, 55, 75, 95, 108],
     [15, 12, 14, 18, 22, 30, 42, 55, 75, 98], [12, 10, 12, 15, 18, 25, 32, 40, 48, 60],
     [10, 8, 8, 10, 12, 15, 20, 25, 35, 50], [18, 16, 18, 22, 28, 38, 50, 62, 80, 95]],
    [[36, 20, 15, 12, 8, 10, 9, 5, 3, 0], [30, 26, 17, 20, 29, 24, 20, 13, 10, 7],
     [27, 22, 24, 21, 20, 23, 27, 33, 28, 30], [25, 14, 10, 9, 12, 12, 10, 11, 13, 16],
     [22, 18, 20, 19, 16, 20, 22, 25, 31, 27], [20, 15, 16, 16, 10, 10, 10, 8, 6, 4],
     [18, 6, 10, 7, 8, 5, 1, 1, 1, 1], [24, 20, 18, 15, 14, 11, 13, 12, 9, 6]],
    [[35, 22, 18, 13, 9, 6, 3, 1, 0, 0], [30, 20, 15, 10, 6, 5, 5, 5, 5, 5], [25, 15, 10, 8, 5, 3, 2, 0, 0, 0],
     [20, 12, 8, 5, 3, 1, 0, 0, 0, 0], [18, 10, 7, 4, 2, 1, 0, 0, 0, 0], [28, 14, 9, 6, 4, 2, 1, 0, 0, 0]],
    [[28, 22, 14, 8, 3, 2, 1, 0, 0, 0], [26, 18, 10, 6, 4, 3, 1, 1, 0, 0], [22, 14, 7, 3, 2, 1, 0, 0, 0, 0],
     [15, 10, 5, 2, 1, 0, 0, 0, 0, 0], [24, 15, 8, 4, 3, 2, 1, 0, 0, 0]],
    [[36, 18, 10, 7, 2, 1, 1, 1, 0, 0], [32, 15, 8, 4, 2, 1, 0, 0, 0, 0], [25, 12, 6, 3, 1, 0, 0, 0, 0, 0],
     [20, 8, 3, 2, 1, 0, 0, 0, 0, 0], [28, 14, 7, 3, 1, 1, 1, 0, 0, 0]],
    [[30, 14, 5, 3, 2, 1, 0, 0, 0, 0], [28, 12, 4, 2, 1, 0, 0, 0, 0, 0], [20, 9, 3, 1, 0, 0, 0, 0, 0, 0],
     [15, 5, 2, 0, 0, 0, 0, 0, 0, 0], [25, 10, 4, 2, 1, 0, 0, 0, 0, 0]],
    [[34, 13, 6, 3, 1, 0, 0, 0, 0, 0], [28, 11, 5, 2, 1, 0, 0, 0, 0, 0], [22, 8, 3, 1, 0, 0, 0, 0, 0, 0],
     [18, 6, 2, 0, 0, 0, 0, 0, 0, 0], [25, 10, 4, 2, 0, 0, 0, 0, 0, 0]],
    [[28, 10, 4, 2, 1, 0, 0, 0, 0, 0], [26, 9, 3, 1, 0, 0, 0, 0, 0, 0], [14, 6, 2, 0, 0, 0, 0, 0, 0, 0],
     [22, 7, 2, 0, 0, 0, 0, 0, 0, 0]],
    [[26, 9, 4, 2, 1, 0, 0, 0, 0, 0], [24, 8, 3, 1, 0, 0, 0, 0, 0, 0], [16, 5, 2, 0, 0, 0, 0, 0, 0, 0],
     [20, 7, 2, 0, 0, 0, 0, 0, 0, 0]],
]

# ---------------- h2 = 0.90 ----------------
MEAN_H2_090 = [
    [20, 20, 22, 30, 45, 80, 150, 350, 700, 1500],
    [23, 23, 30, 38, 47, 62, 78, 108, 140, 180],
    [23.5, 18, 17, 15.5, 14.5, 13.8, 14.2, 13.3, 12.8, 11.5],
    [25, 18.5, 14, 10.5, 7.5, 5.5, 4, 2.5, 2, 1.2],
    [26, 15, 9.5, 4.5, 2, 1.5, 0.5, 0.2, 0.2, 0.1],
    [26.5, 15, 8, 4, 2, 0.5, 0.2, 0.1, 0.1, 0.1],
    [27.5, 14, 6, 2, 1, 0.5, 0.2, 0.1, 0.1, 0.1],
    [23, 8.5, 2.5, 1, 0.3, 0.1, 0.1, 0.1, 0.1, 0.1],
    [21.5, 8, 2.5, 0.3, 0.1, 0.1, 0.1, 0.1, 0.1, 0.1],
    [21, 6, 0.8, 0.3, 0.1, 0.1, 0.1, 0.1, 0.1, 0.1],
]
RUNS_H2_090 = [
    [[25, 25, 30, 50, 100, 200, 450, 900, 1900, 4150], [22, 22, 25, 40, 80, 160, 350, 700, 1500, 3450],
     [20, 20, 22, 30, 50, 90, 180, 350, 600, 950], [18, 18, 20, 22, 30, 50, 90, 170, 300, 500],
     [15, 15, 15, 15, 15, 15, 20, 25, 30, 30], [10, 10, 10, 10, 10, 10, 10, 10, 10, 10]],
    [[30, 32, 40, 50, 65, 85, 110, 150, 210, 275], [28, 30, 38, 48, 60, 80, 105, 145, 200, 260],
     [25, 25, 32, 42, 55, 75, 95, 130, 170, 210], [22, 22, 28, 35, 45, 60, 80, 100, 120, 145],
     [20, 20, 25, 30, 40, 52, 65, 80, 100, 120], [18, 18, 22, 28, 35, 45, 55, 68, 80, 90],
     [15, 15, 18, 22, 28, 35, 40, 50, 60, 70], [12, 15, 18, 20, 22, 25, 30, 40, 60, 95],
     [24, 26, 32, 40, 52, 65, 85, 110, 140, 170]],
    [[30, 24, 23, 19, 19, 13, 20, 28, 25, 24], [28, 26, 20, 18, 15, 8, 13, 14, 21, 16],
     [27, 22, 22, 16, 14, 16, 13, 15, 20, 23], [25, 18, 10, 15, 12, 15, 11, 10, 9, 8],
     [22, 20, 15, 14, 10, 14, 12, 8, 6, 4], [20, 15, 12, 17, 9, 6, 4, 8, 12, 13],
     [18, 12, 8, 12, 10, 13, 15, 13, 8, 7], [15, 19, 18, 15, 13, 11, 12, 10, 9, 6],
     [24, 23, 20, 18, 17, 16, 15, 12, 10, 8]],
    [[32, 26, 19, 12, 12, 15, 12, 10, 7, 4], [28, 24, 18, 14, 11, 10, 8, 6, 3, 1],
     [25, 20, 12, 12, 9, 6, 3, 2, 1, 0], [22, 15, 12, 9, 6, 4, 2, 1, 0, 0], [18, 12, 9, 6, 4, 3, 1, 0, 0, 0],
     [30, 22, 16, 12, 8, 5, 4, 2, 1, 0], [20, 16, 13, 10, 6, 4, 2, 1, 0, 0]],
    [[32, 20, 15, 10, 4, 3, 2, 1, 0, 0], [30, 18, 12, 6, 3, 2, 1, 0, 0, 0], [25, 14, 8, 3, 2, 1, 0, 0, 0, 0],
     [20, 10, 5, 1, 0, 0, 0, 0, 0, 0], [23, 16, 11, 5, 3, 2, 1, 1, 1, 0]],
    [[36, 18, 15, 6, 5, 1, 1, 0, 0, 0], [30, 17, 12, 7, 4, 2, 1, 0, 0, 0], [25, 14, 8, 4, 2, 1, 0, 0, 0, 0],
     [20, 10, 4, 2, 1, 0, 0, 0, 0, 0], [17, 12, 6, 3, 0, 0, 0, 0, 0, 0]],
    [[34, 18, 9, 6, 3, 2, 2, 0, 0, 0], [30, 15, 7, 3, 1, 0, 0, 0, 0, 0], [24, 12, 5, 1, 0, 0, 0, 0, 0, 0],
     [20, 8, 3, 1, 0, 0, 0, 0, 0, 0], [28, 14, 6, 2, 1, 0, 0, 0, 0, 0]],
    [[26, 12, 8, 2, 2, 0, 0, 0, 0, 0], [24, 10, 4, 2, 1, 0, 0, 0, 0, 0], [18, 7, 3, 1, 0, 0, 0, 0, 0, 0],
     [20, 5, 2, 0, 0, 0, 0, 0, 0, 0]],
    [[31, 10, 4, 1, 0, 0, 0, 0, 0, 0], [25, 9, 3, 1, 0, 0, 0, 0, 0, 0], [18, 6, 2, 0, 0, 0, 0, 0, 0, 0],
     [20, 5, 1, 0, 0, 0, 0, 0, 0, 0]],
    [[25, 8, 2, 1, 0, 0, 0, 0, 0, 0], [23, 7, 1, 0, 0, 0, 0, 0, 0, 0], [16, 5, 1, 0, 0, 0, 0, 0, 0, 0],
     [20, 6, 1, 0, 0, 0, 0, 0, 0, 0]],
]

# ---------------- h2 = 1.00 ----------------
MEAN_H2_100 = [
    [20, 20, 22, 30, 50, 90, 180, 400, 900, 1900],
    [23, 25, 32, 40, 52, 68, 95, 130, 175, 230],
    [23.5, 21, 19.5, 18.5, 19, 17.5, 16.5, 15.5, 13.5, 11],
    [28.5, 22, 15.5, 10.5, 6.5, 5, 3.5, 2.5, 1.5, 1],
    [27.5, 17, 11, 7.5, 4, 2.5, 1, 0.5, 0.5, 0.3],
    [23.5, 13, 6.5, 3.5, 1.5, 0.6, 0.1, 0.1, 0.1, 0.1],
    [23.5, 10, 4.5, 1.5, 0.4, 0.1, 0.1, 0.1, 0.1, 0.1],
    [23.5, 9.5, 2.5, 0.8, 0.1, 0.1, 0.1, 0.1, 0.1, 0.1],
    [23.5, 9, 2.5, 1, 0.3, 0.2, 0.2, 0.1, 0.1, 0.1],
    [22, 7, 2, 0.5, 0.1, 0.1, 0.1, 0.1, 0.1, 0.1],
]
RUNS_H2_100 = [
    [[25, 25, 30, 50, 100, 200, 450, 900, 2000, 3500], [22, 22, 28, 45, 90, 180, 400, 800, 1700, 3150],
     [20, 20, 25, 35, 60, 120, 250, 500, 1100, 2050], [18, 18, 22, 30, 50, 90, 180, 350, 700, 1400],
     [15, 15, 18, 22, 30, 50, 90, 150, 250, 420], [12, 12, 12, 12, 15, 20, 30, 50, 80, 120]],
    [[30, 35, 45, 60, 85, 120, 170, 240, 330, 450], [28, 32, 42, 55, 75, 100, 140, 190, 250, 335],
     [25, 28, 38, 50, 65, 90, 120, 160, 220, 295], [22, 25, 32, 42, 55, 72, 90, 105, 120, 140],
     [20, 22, 28, 35, 45, 58, 72, 88, 105, 125], [18, 20, 25, 30, 38, 48, 58, 68, 78, 85],
     [15, 18, 22, 28, 35, 45, 55, 65, 75, 80], [24, 26, 34, 42, 55, 72, 98, 135, 180, 240]],
    [[32, 30, 26, 31, 33, 27, 22, 26, 26, 26], [30, 28, 24, 22, 26, 22, 28, 24, 24, 18],
     [27, 20, 25, 20, 22, 18, 20, 16, 12, 10], [25, 22, 18, 16, 21, 17, 15, 15, 15, 15],
     [22, 20, 17, 20, 15, 12, 12, 10, 8, 6], [20, 17, 15, 18, 14, 10, 0, 0, 0, 0],
     [18, 21, 18, 14, 10, 14, 16, 13, 9, 5], [21, 20, 21, 19, 17, 20, 14, 18, 12, 7]],
    [[36, 34, 25, 16, 11, 8, 6, 6, 4, 4], [33, 28, 20, 15, 10, 10, 8, 5, 2, 3],
     [30, 24, 18, 12, 8, 6, 5, 3, 2, 1], [26, 20, 13, 8, 4, 2, 2, 3, 1, 0], [22, 16, 10, 6, 3, 2, 1, 0, 0, 0],
     [28, 22, 15, 10, 6, 6, 4, 4, 3, 2], [20, 18, 14, 11, 9, 6, 4, 0, 0, 0]],
    [[35, 22, 18, 12, 8, 5, 3, 3, 3, 1], [32, 19, 14, 10, 6, 4, 2, 1, 1, 0], [28, 17, 11, 8, 4, 4, 2, 1, 0, 0],
     [24, 13, 8, 5, 3, 1, 1, 0, 0, 0], [20, 10, 5, 2, 1, 0, 0, 0, 0, 0], [30, 20, 12, 6, 4, 3, 1, 0, 0, 0]],
    [[32, 22, 10, 6, 5, 2, 1, 0, 0, 0], [26, 18, 8, 5, 3, 1, 0, 0, 0, 0], [22, 14, 7, 4, 2, 1, 0, 0, 0, 0],
     [18, 10, 4, 2, 1, 0, 0, 0, 0, 0], [14, 8, 4, 2, 0, 0, 0, 0, 0, 0]],
    [[30, 14, 7, 3, 1, 0, 0, 0, 0, 0], [27, 12, 5, 2, 1, 0, 0, 0, 0, 0], [22, 9, 4, 1, 0, 0, 0, 0, 0, 0],
     [15, 7, 3, 1, 0, 0, 0, 0, 0, 0], [24, 11, 6, 2, 0, 0, 0, 0, 0, 0]],
    [[30, 12, 4, 2, 0, 0, 0, 0, 0, 0], [27, 10, 3, 1, 0, 0, 0, 0, 0, 0], [20, 7, 2, 0, 0, 0, 0, 0, 0, 0],
     [15, 6, 2, 0, 0, 0, 0, 0, 0, 0]],
    [[32, 12, 5, 2, 1, 1, 1, 0, 0, 0], [28, 10, 4, 1, 0, 0, 0, 0, 0, 0], [22, 7, 2, 0, 0, 0, 0, 0, 0, 0],
     [15, 6, 2, 0, 0, 0, 0, 0, 0, 0]],
    [[28, 9, 4, 2, 1, 0, 0, 0, 0, 0], [25, 8, 3, 1, 0, 0, 0, 0, 0, 0], [11, 5, 2, 0, 0, 0, 0, 0, 0, 0],
     [20, 6, 1, 0, 0, 0, 0, 0, 0, 0]],
]

MEANS = [MEAN_H2_010, MEAN_H2_020, MEAN_H2_030, MEAN_H2_040, MEAN_H2_050,
         MEAN_H2_060, MEAN_H2_070, MEAN_H2_080, MEAN_H2_090, MEAN_H2_100]
RUNS = [RUNS_H2_010, RUNS_H2_020, RUNS_H2_030, RUNS_H2_040, RUNS_H2_050,
        RUNS_H2_060, RUNS_H2_070, RUNS_H2_080, RUNS_H2_090, RUNS_H2_100]

fig, axes = plt.subplots(10, 10, figsize=(20, 20), dpi=100)
for i, h2 in enumerate(H2_VALUES):
    for j, p in enumerate(P_VALUES):
        ax = axes[i, j]
        for run in RUNS[i][j]:
            ax.plot(GENERATIONS, run, color="lightblue", alpha=0.6, linewidth=1.5)
        ax.plot(GENERATIONS, MEANS[i][j], color="blue", linewidth=1.5)
        ax.set_title(f"h2={h2:.2f}, P={p:.2f}")
        ax.grid(True)

plt.tight_layout()
fig.savefig("out.png", dpi=100)
